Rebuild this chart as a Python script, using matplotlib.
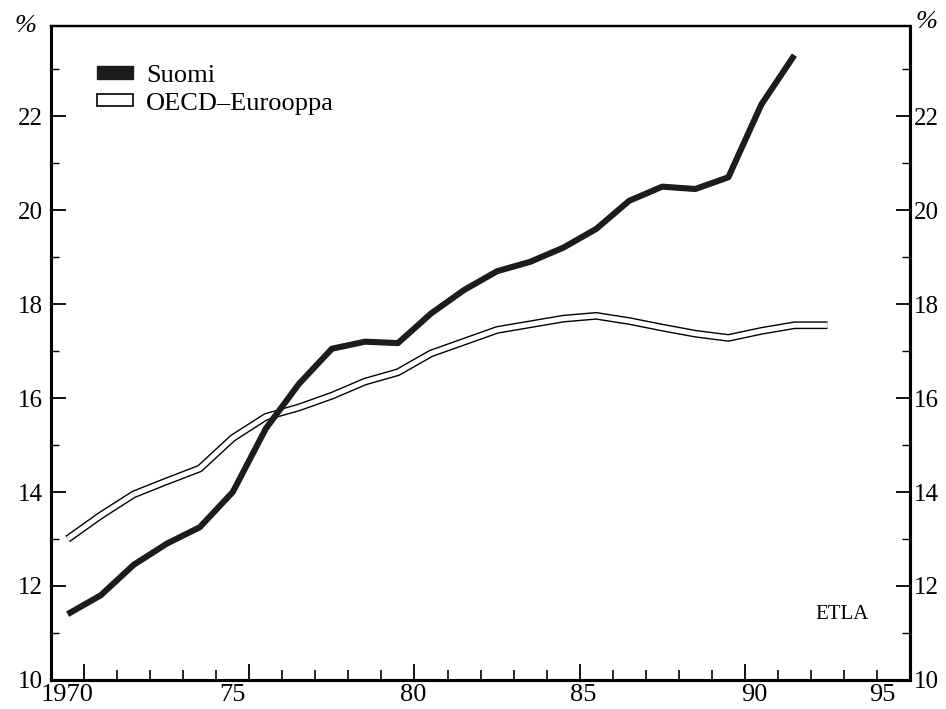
import numpy as np
import matplotlib.pyplot as plt
import matplotlib.patheffects as pe
from matplotlib.patches import Patch

plt.rcParams['font.family'] = ['Liberation Serif', 'DejaVu Serif']

# data (% share), one value per year
years_fi = np.arange(1970, 1993)
suomi = [11.4, 11.8, 12.45, 12.9, 13.25, 14.0, 15.35, 16.3, 17.05, 17.2, 17.17,
         17.8, 18.3, 18.7, 18.9, 19.2, 19.6, 20.2, 20.5, 20.45, 20.7, 22.25, 23.3]

years_oecd = np.arange(1970, 1994)
oecd = [13.0, 13.5, 13.95, 14.23, 14.5, 15.15, 15.6, 15.8, 16.05, 16.35, 16.55,
        16.95, 17.2, 17.45, 17.57, 17.69, 17.75, 17.64, 17.5, 17.37, 17.28, 17.43,
        17.55, 17.55]

series_names = ['Suomi', 'OECD\u2013Eurooppa']
xtick_labels = ['1970', '75', '80', '85', '90', '95']
ytick_values = [10, 12, 14, 16, 18, 20, 22]

fig = plt.figure(figsize=(9.46, 7.09), dpi=100)
ax = fig.add_axes([0.054, 0.041, 0.908, 0.923])

ax.plot(years_fi, suomi, color='#1c1c1c', lw=4.4, solid_capstyle='butt',
        solid_joinstyle='round', zorder=3)
ax.plot(years_oecd, oecd, color='white', lw=3.6, solid_capstyle='butt',
        solid_joinstyle='round', zorder=2,
        path_effects=[pe.Stroke(linewidth=5.6, foreground='black', capstyle='butt'),
                      pe.Normal()])

ax.set_xlim(1969.5, 1995.5)
ax.set_ylim(10, 23.93)

# x axis: ticks at year boundaries, labels near the year centres
ax.set_xticks(np.arange(1970.5, 1995, 5))
ax.set_xticks(np.arange(1970.5, 1995.5, 1), minor=True)
ax.tick_params(axis='x', which='major', direction='in', length=11.5, width=1.3,
               labelbottom=False)
ax.tick_params(axis='x', which='minor', direction='in', length=7, width=1.2)
label_pos = [1970.0, 1975.0, 1980.45, 1985.6, 1990.8, 1994.65]
for pos, lab in zip(label_pos, xtick_labels):
    ax.text(pos, -0.006, lab, transform=ax.get_xaxis_transform(),
            ha='center', va='top', fontsize=19)

# y axis on both sides
ax.set_yticks(ytick_values)
ax.set_yticks(np.arange(11, 24, 2), minor=True)
ax.tick_params(axis='y', which='major', direction='in', length=10.5, width=1.3,
               labelsize=18, pad=6)
ax.tick_params(axis='y', which='minor', direction='in', length=5.5, width=1.0)

ax2 = ax.twinx()
ax2.set_ylim(ax.get_ylim())
ax2.set_yticks(ytick_values)
ax2.set_yticks(np.arange(11, 24, 2), minor=True)
ax2.tick_params(axis='y', which='major', direction='in', length=10, width=1.3,
                labelsize=18, pad=3)
ax2.tick_params(axis='y', which='minor', direction='in', length=5.5, width=1.0)

for a in (ax, ax2):
    for side in ['left', 'right', 'bottom']:
        a.spines[side].set_linewidth(2.2)
    a.spines['top'].set_linewidth(1.6)

fig.text(25 / 946, 1 - 26 / 709, '%', fontsize=19, style='italic',
         ha='center', va='center')
fig.text(926 / 946, 1 - 22 / 709, '%', fontsize=19, style='italic',
         ha='center', va='center')

ax.text(0.921, 0.1, 'ETLA', transform=ax.transAxes, fontsize=15,
        ha='center', va='center')

handles = [Patch(facecolor='#1c1c1c', edgecolor='#1c1c1c'),
           Patch(facecolor='white', edgecolor='black', linewidth=1.2)]
ax.legend(handles, series_names, loc='upper left',
          bbox_to_anchor=(0.0536, 0.94), frameon=False, fontsize=19,
          borderpad=0, borderaxespad=0, handlelength=1.35, handleheight=0.35,
          handletextpad=0.5, labelspacing=0.22)

fig.savefig('out.png', dpi=100)
